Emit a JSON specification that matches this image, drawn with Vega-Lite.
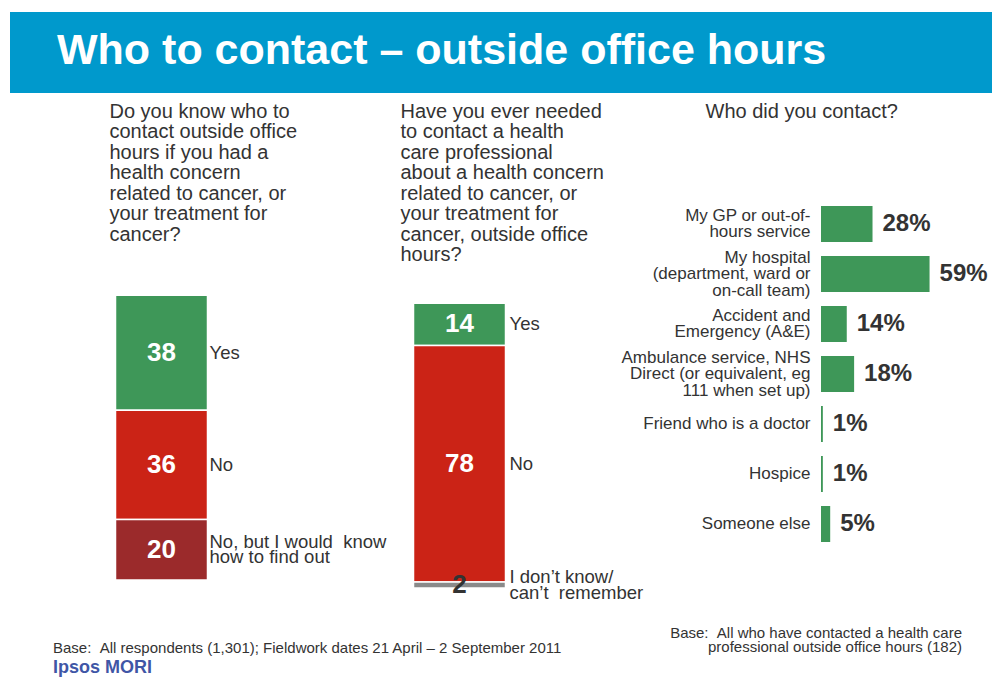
{
  "$schema": "https://vega.github.io/schema/vega-lite/v6.json",
  "padding": {"left": 10, "top": 12, "right": 0, "bottom": 0},
  "background": "white",
  "config": {"font": "Liberation Sans", "view": {"stroke": null}},
  "bounds": "flush",
  "spacing": 106,
  "vconcat": [
    {
      "width": 982,
      "height": 81,
      "view": {"fill": "#0099cc", "stroke": null},
      "data": {"values": []},
      "mark": "rect",
      "encoding": {},
      "title": {
        "text": "Who to contact – outside office hours",
        "orient": "top", "anchor": "start", "frame": "group",
        "dx": 47, "offset": -61, "baseline": "top",
        "fontSize": 43, "fontWeight": "bold", "color": "white", "limit": 1000
      }
    },
    {
      "bounds": "flush",
      "spacing": 0,
      "hconcat": [
        {
          "width": 303,
          "height": 381,
          "data": {"values": [
            {"q": "Q1", "cat": "Yes", "value": 38, "ord": 3},
            {"q": "Q1", "cat": "No", "value": 36, "ord": 2},
            {"q": "Q1", "cat": "No, but I would\u00a0\u00a0know\nhow to find out", "value": 20, "ord": 1}
          ]},
          "title": {
            "text": "Base:\u00a0\u00a0All respondents (1,301); Fieldwork dates 21 April – 2 September 2011",
            "subtitle": "Ipsos MORI",
            "orient": "bottom", "anchor": "start", "frame": "group",
            "dx": 43, "offset": 60, "baseline": "top",
            "fontSize": 15, "fontWeight": "normal", "color": "#333333",
            "subtitleFontSize": 18, "subtitleFontWeight": "bold", "subtitleColor": "#3f56a6",
            "subtitlePadding": 3, "limit": 1000
          },
          "encoding": {
            "x": {
              "field": "q", "type": "nominal",
              "scale": {"paddingInner": 0, "paddingOuter": 0},
              "axis": {
                "orient": "top",
                "title": ["Do you know who to", "contact outside office", "hours if you had a", "health concern", "related to cancer, or", "your treatment for", "cancer?"],
                "labels": false, "ticks": false, "domain": false, "grid": false,
                "titleX": 99, "titleY": -98, "titleAlign": "left", "titleAnchor": "start", "titleBaseline": "top",
                "titleFontSize": 20, "titleFontWeight": "normal", "titleColor": "#333333",
                "titleLineHeight": 20.5, "titleLimit": 1000
              }
            },
            "y": {"field": "value", "type": "quantitative", "stack": "zero", "scale": {"domain": [0, 125.74], "nice": false}, "axis": null},
            "order": {"field": "ord", "type": "quantitative"}
          },
          "layer": [
            {
              "mark": {"type": "bar", "width": 92, "stroke": "white", "strokeWidth": 1.5},
              "encoding": {
                "color": {"field": "cat", "type": "nominal", "legend": null,
                  "scale": {"domain": ["Yes", "No", "No, but I would\u00a0\u00a0know\nhow to find out", "I don’t know/\ncan’t\u00a0\u00a0remember"], "range": ["#3e9758", "#cb2316", "#9b2a2b", "#8a8a8a"]}}
              }
            },
            {
              "mark": {"type": "text", "fontSize": 26, "fontWeight": "bold", "baseline": "middle"},
              "encoding": {
                "y": {"field": "value", "type": "quantitative", "stack": "zero", "bandPosition": 0.5},
                "detail": {"field": "cat"},
                "text": {"field": "value", "type": "quantitative"},
                "color": {"condition": {"test": "datum.value < 5", "value": "#333333"}, "value": "white"}
              }
            },
            {
              "mark": {"type": "text", "fontSize": 18.5, "align": "left", "dx": 48, "baseline": "middle", "lineBreak": "\n", "lineHeight": 15.5, "color": "#333333"},
              "encoding": {
                "y": {"field": "value", "type": "quantitative", "stack": "zero", "bandPosition": 0.5},
                "detail": {"field": "cat"},
                "text": {"field": "cat", "type": "nominal", "condition": {"test": "indexof(datum.cat, '\\n') >= 0", "value": ""}}
              }
            },
            {
              "mark": {"type": "text", "fontSize": 18.5, "align": "left", "dx": 48, "dy": -7.75, "baseline": "middle", "lineBreak": "\n", "lineHeight": 15.5, "color": "#333333"},
              "encoding": {
                "y": {"field": "value", "type": "quantitative", "stack": "zero", "bandPosition": 0.5},
                "detail": {"field": "cat"},
                "text": {"field": "cat", "type": "nominal", "condition": {"test": "indexof(datum.cat, '\\n') < 0", "value": ""}}
              }
            }
          ]
        },
        {
          "width": 508,
          "height": 389,
          "data": {"values": [
            {"q": "Q2", "cat": "Yes", "value": 14, "ord": 3},
            {"q": "Q2", "cat": "No", "value": 78, "ord": 2},
            {"q": "Q2", "cat": "I don’t know/\ncan’t\u00a0\u00a0remember", "value": 2, "ord": 1}
          ]},
          "encoding": {
            "x": {
              "field": "q", "type": "nominal",
              "scale": {"paddingInner": 0, "paddingOuter": 1, "align": 0.1826},
              "axis": {
                "orient": "top",
                "title": ["Have you ever needed", "to contact a health", "care professional", "about a health concern", "related to cancer, or", "your treatment for", "cancer, outside office", "hours?"],
                "labels": false, "ticks": false, "domain": false, "grid": false,
                "titleX": 87, "titleY": -98, "titleAlign": "left", "titleAnchor": "start", "titleBaseline": "top",
                "titleFontSize": 20, "titleFontWeight": "normal", "titleColor": "#333333",
                "titleLineHeight": 20.5, "titleLimit": 1000
              }
            },
            "y": {"field": "value", "type": "quantitative", "stack": "zero", "scale": {"domain": [0, 128.38], "nice": false}, "axis": null},
            "order": {"field": "ord", "type": "quantitative"}
          },
          "layer": [
            {
              "mark": {"type": "bar", "width": 92, "stroke": "white", "strokeWidth": 1.5},
              "encoding": {
                "color": {"field": "cat", "type": "nominal", "legend": null,
                  "scale": {"domain": ["Yes", "No", "No, but I would\u00a0\u00a0know\nhow to find out", "I don’t know/\ncan’t\u00a0\u00a0remember"], "range": ["#3e9758", "#cb2316", "#9b2a2b", "#8a8a8a"]}}
              }
            },
            {
              "mark": {"type": "text", "fontSize": 26, "fontWeight": "bold", "baseline": "middle"},
              "encoding": {
                "y": {"field": "value", "type": "quantitative", "stack": "zero", "bandPosition": 0.5},
                "detail": {"field": "cat"},
                "text": {"field": "value", "type": "quantitative"},
                "color": {"condition": {"test": "datum.value < 5", "value": "#333333"}, "value": "white"}
              }
            },
            {
              "mark": {"type": "text", "fontSize": 18.5, "align": "left", "dx": 50, "baseline": "middle", "lineBreak": "\n", "lineHeight": 15.5, "color": "#333333"},
              "encoding": {
                "y": {"field": "value", "type": "quantitative", "stack": "zero", "bandPosition": 0.5},
                "detail": {"field": "cat"},
                "text": {"field": "cat", "type": "nominal", "condition": {"test": "indexof(datum.cat, '\\n') >= 0", "value": ""}}
              }
            },
            {
              "mark": {"type": "text", "fontSize": 18.5, "align": "left", "dx": 50, "dy": -7.75, "baseline": "middle", "lineBreak": "\n", "lineHeight": 15.5, "color": "#333333"},
              "encoding": {
                "y": {"field": "value", "type": "quantitative", "stack": "zero", "bandPosition": 0.5},
                "detail": {"field": "cat"},
                "text": {"field": "cat", "type": "nominal", "condition": {"test": "indexof(datum.cat, '\\n') < 0", "value": ""}}
              }
            }
          ]
        },
        {
          "width": 120,
          "height": 350,
          "data": {"values": [
            {"item": "My GP or out-of-|hours service", "share": 0.28},
            {"item": "My hospital|(department, ward or|on-call team)", "share": 0.59},
            {"item": "Accident and|Emergency (A&E)", "share": 0.14},
            {"item": "Ambulance service, NHS|Direct (or equivalent, eg|111 when set up)", "share": 0.18},
            {"item": "Friend who is a doctor", "share": 0.01},
            {"item": "Hospice", "share": 0.01},
            {"item": "Someone else", "share": 0.05}
          ]},
          "title": {
            "text": ["Base:\u00a0\u00a0All who have contacted a health care", "professional outside office hours (182)"],
            "orient": "bottom", "anchor": "end", "frame": "group",
            "dx": 21, "offset": 77, "baseline": "top",
            "fontSize": 15, "fontWeight": "normal", "color": "#333333", "lineHeight": 14, "limit": 1000
          },
          "encoding": {
            "y": {
              "field": "item", "type": "nominal", "sort": null,
              "scale": {"paddingInner": 0.28, "paddingOuter": 0.14},
              "axis": {"title": null, "ticks": false, "domain": false, "grid": false,
                "labelExpr": "split(datum.label, '|')",
                "labelFontSize": 17, "labelColor": "#333333", "labelLineHeight": 16.5,
                "labelPadding": 11, "labelLimit": 400, "labelBaseline": "middle",
                "labelOffset": {"condition": [
                  {"test": "length(split(datum.value, '|')) == 3", "value": -16.5},
                  {"test": "length(split(datum.value, '|')) == 2", "value": -8.25}
                ], "value": 0}}
            },
            "x": {
              "field": "share", "type": "quantitative",
              "scale": {"domain": [0, 0.6522], "nice": false},
              "axis": {
                "orient": "top", "title": "Who did you contact?",
                "labels": false, "ticks": false, "domain": false, "grid": false,
                "titleX": -116, "titleY": -98, "titleAlign": "left", "titleAnchor": "start", "titleBaseline": "top",
                "titleFontSize": 20, "titleFontWeight": "normal", "titleColor": "#333333", "titleLimit": 1000
              }
            }
          },
          "layer": [
            {"mark": {"type": "bar", "color": "#3e9758"}},
            {
              "mark": {"type": "text", "align": "left", "dx": 10, "baseline": "middle", "fontSize": 24, "fontWeight": "bold", "color": "#333333"},
              "encoding": {"text": {"field": "share", "type": "quantitative", "format": ".0%"}}
            }
          ]
        }
      ]
    }
  ]
}
